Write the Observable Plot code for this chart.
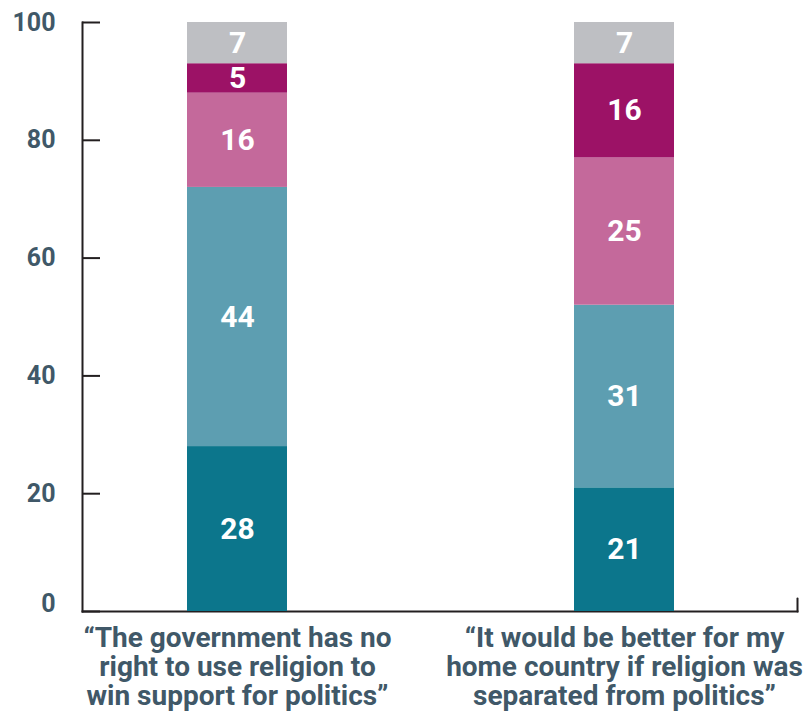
<!DOCTYPE html>
<html><head><meta charset="utf-8">
<script src="https://cdn.jsdelivr.net/npm/d3@7"></script>
<script src="https://cdn.jsdelivr.net/npm/@observablehq/plot@0.6"></script>
<style>body{margin:0;background:#fff} svg{display:block}</style>
</head><body><div id="chart"></div>
<script>
const categories = [
  "“The government has no\nright to use religion to\nwin support for politics”",
  "“It would be better for my\nhome country if religion was\nseparated from politics”"
];
const segments = ["Segment 1", "Segment 2", "Segment 3", "Segment 4", "Segment 5"]; // bottom to top
const values1 = [28, 44, 16, 5, 7];
const values2 = [21, 31, 25, 16, 7];
const colors = ["#0c768c", "#5d9eb1", "#c4699b", "#9c1266", "#bebfc3"];
const yTickLabels = [20, 40, 60, 80, 100];
const yTicks = [0, 20, 40, 60, 80, 100];

const series = [values1, values2];
const data = [];
categories.forEach((c, i) => segments.forEach((s, j) => data.push({category: c, segment: s, value: series[i][j]})));

const ink = "#231f20";
const slate = "#405868";

const chart = Plot.plot({
  width: 804,
  height: 713,
  marginTop: 22,
  marginBottom: 102,
  marginLeft: 82,
  marginRight: 7,
  style: {fontFamily: "Roboto, 'Noto Sans', sans-serif", background: "#fff"},
  x: {domain: categories, range: [43.5, 817.5], paddingInner: 0.7416, paddingOuter: 0.3708, label: null},
  y: {domain: [0, 100], label: null},
  color: {domain: segments, range: colors},
  marks: [
    Plot.frame({anchor: "left", stroke: ink, strokeWidth: 2}),
    Plot.frame({anchor: "bottom", stroke: ink, strokeWidth: 2}),
    Plot.vector([0], {frameAnchor: "bottom-right", length: 13, rotate: 0, anchor: "start", stroke: ink, strokeWidth: 2,
      shape: {draw(ctx, l) { ctx.moveTo(0, 0); ctx.lineTo(0, -l); }}}),
    Plot.axisY({ticks: yTicks, tickSize: -18, tickFormat: () => "", stroke: ink, strokeWidth: 2, label: null}),
    Plot.axisY({ticks: yTickLabels, tickSize: 0, tickPadding: 27, fontSize: 25, fontWeight: 700, fill: slate, label: null}),
    Plot.text([0], {y: d => d, frameAnchor: "left", dx: -27, dy: -8, text: d => String(d), textAnchor: "end", fontSize: 25, fontWeight: 700, fill: slate}),
    Plot.axisX({tickSize: 0, tickPadding: 15, fontSize: 28, fontWeight: 700, fill: slate, lineHeight: 1.04, label: null}),
    Plot.barY(data, {x: "category", y: "value", fill: "segment"}),
    Plot.text(data, Plot.stackY({x: "category", y: "value", text: d => String(d.value), fill: "white", fontSize: 30, fontWeight: 700}))
  ]
});
document.getElementById("chart").appendChild(chart);
</script>
</body></html>
